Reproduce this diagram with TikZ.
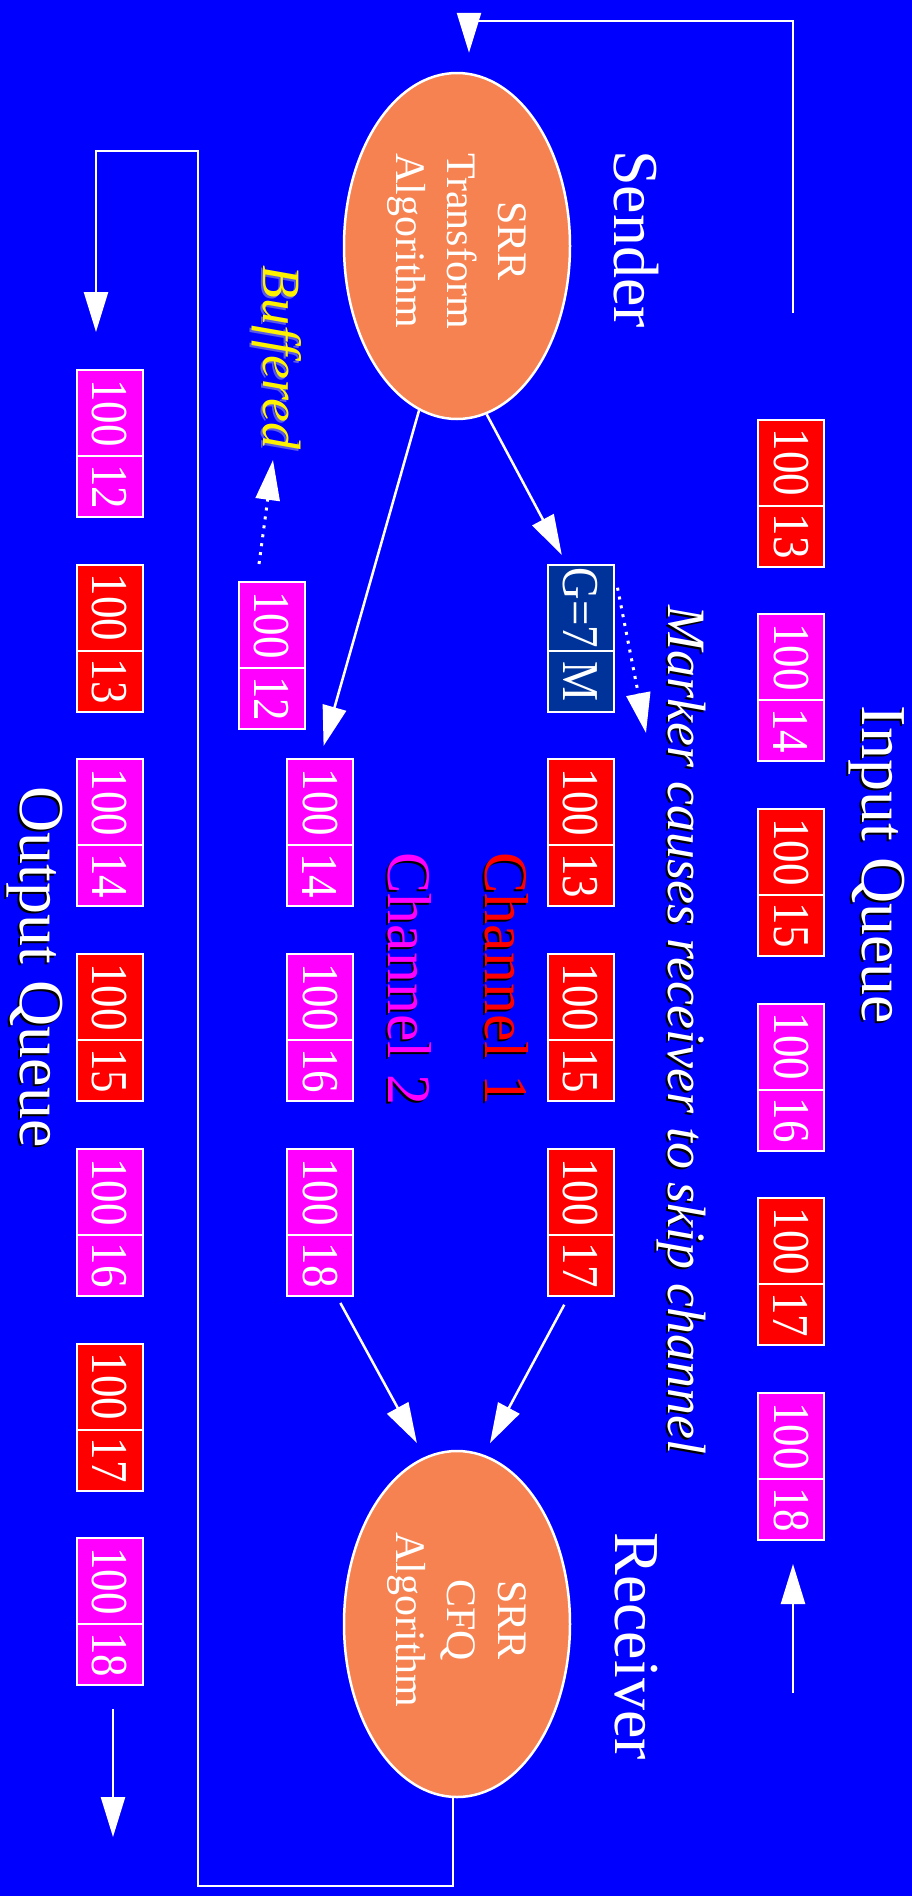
\documentclass[tikz,border=0pt]{standalone}
\usepackage{fontspec}
\setmainfont{Liberation Serif}
\usepackage{graphicx}
\usetikzlibrary{arrows.meta,shapes.geometric}
\definecolor{bg}{RGB}{0,0,255}
\definecolor{ellfill}{RGB}{245,130,80}
\definecolor{pred}{RGB}{255,0,0}
\definecolor{pmag}{RGB}{255,0,255}
\definecolor{pnavy}{RGB}{0,51,153}
\definecolor{bshadow}{RGB}{90,90,230}
\newcommand\rt[1]{\rotatebox{-90}{\scalebox{1}[1.15]{#1}}}
\begin{document}
\begin{tikzpicture}[x=1pt,y=-1pt,
  arr/.style={draw=white, line width=2.5pt, -{Triangle[length=40pt,width=24pt]}},
  dotarr/.style={draw=white, line width=3pt, dash pattern=on 3pt off 6pt, -{Triangle[length=40pt,width=24pt]}},
  pk/.style={draw=white, line width=2pt, minimum width=66pt, inner sep=0pt, text=white, font=\fontsize{45}{45}\selectfont},
  hi/.style={pk, minimum height=86pt},
  lo/.style={pk, minimum height=61pt},
  ell/.style={ellipse, draw=white, line width=2.5pt, fill=ellfill, minimum width=226pt, minimum height=346pt, inner sep=0pt},
  elltxt/.style={rotate=-90, align=center, inner sep=0pt, text=white, font=\fontsize{42}{51}\selectfont},
  lbl/.style={rotate=-90, inner sep=0pt, text=white, font=\fontsize{64}{64}\selectfont},
  chl/.style={rotate=-90, inner sep=0pt, anchor=west, font=\fontsize{62}{62}\selectfont},
  itl/.style={rotate=-90, inner sep=0pt, font=\fontsize{54}{54}\selectfont\itshape}
]
\fill[bg] (0,0) rectangle (912,1896);
\useasboundingbox (0,0) rectangle (912,1896);

% ellipses
\node[ell] (snd) at (457,246) {};
\node[elltxt] (sndT) at (457,241) {SRR\\Transform\\Algorithm};
\node[ell] (rcv) at (457,1624) {};
\node[elltxt] (rcvT) at (457,1620) {SRR\\CFQ\\Algorithm};

% labels
\node[lbl] (sndL) at (636,239) {Sender};
\node[lbl] (rcvL) at (636,1646) {Receiver};
\node[lbl, text=black] (inqS) at (875,867) {Input Queue};
\node[lbl] (inq) at (877,865) {Input Queue};
\node[lbl, text=black] (outqS) at (33,969) {Output Queue};
\node[lbl] (outq) at (35,967) {Output Queue};
\node[chl, text=black] (ch1S) at (505,854) {Channel 1};
\node[chl, text=pred] (ch1) at (507,852) {Channel 1};
\node[chl, text=black] (ch2S) at (408,854) {Channel 2};
\node[chl, text=pmag] (ch2) at (410,852) {Channel 2};
\node[itl, text=black] (mkS) at (679,1032) {Marker causes receiver to skip channel};
\node[itl, text=white] (mk) at (681,1030) {Marker causes receiver to skip channel};
\node[itl, text=bshadow] (bfS) at (275,359) {Buffered};
\node[itl, text=yellow] (bf) at (277,357) {Buffered};

% input queue
\node[hi, fill=pred] (i13a) at (791,462.5) {\rt{100}};
\node[lo, fill=pred] (i13b) at (791,536) {\rt{13}};
\node[hi, fill=pmag] (i14a) at (791,657.2) {\rt{100}};
\node[lo, fill=pmag] (i14b) at (791,730.7) {\rt{14}};
\node[hi, fill=pred] (i15a) at (791,851.9) {\rt{100}};
\node[lo, fill=pred] (i15b) at (791,925.4) {\rt{15}};
\node[hi, fill=pmag] (i16a) at (791,1046.6) {\rt{100}};
\node[lo, fill=pmag] (i16b) at (791,1120.1) {\rt{16}};
\node[hi, fill=pred] (i17a) at (791,1241.3) {\rt{100}};
\node[lo, fill=pred] (i17b) at (791,1314.8) {\rt{17}};
\node[hi, fill=pmag] (i18a) at (791,1436) {\rt{100}};
\node[lo, fill=pmag] (i18b) at (791,1509.5) {\rt{18}};

% channel 1
\node[hi, fill=pnavy] (g1) at (580.5,607.7) {\rt{G=7}};
\node[lo, fill=pnavy] (g1b) at (580.5,681.2) {\rt{M}};
\node[hi, fill=pred] (c1a) at (580.5,802.4) {\rt{100}};
\node[lo, fill=pred] (c1b) at (580.5,875.9) {\rt{13}};
\node[hi, fill=pred] (c1c) at (580.5,997.1) {\rt{100}};
\node[lo, fill=pred] (c1d) at (580.5,1070.6) {\rt{15}};
\node[hi, fill=pred] (c1e) at (580.5,1191.8) {\rt{100}};
\node[lo, fill=pred] (c1f) at (580.5,1265.3) {\rt{17}};

% channel 2
\node[hi, fill=pmag] (c2a) at (320,802.4) {\rt{100}};
\node[lo, fill=pmag] (c2b) at (320,875.9) {\rt{14}};
\node[hi, fill=pmag] (c2c) at (320,997.1) {\rt{100}};
\node[lo, fill=pmag] (c2d) at (320,1070.6) {\rt{16}};
\node[hi, fill=pmag] (c2e) at (320,1191.8) {\rt{100}};
\node[lo, fill=pmag] (c2f) at (320,1265.3) {\rt{18}};

% buffered
\node[hi, fill=pmag] (b12a) at (271.5,625) {\rt{100}};
\node[lo, fill=pmag] (b12b) at (271.5,698.5) {\rt{12}};

% output queue
\node[hi, fill=pmag] (o12a) at (109.5,413) {\rt{100}};
\node[lo, fill=pmag] (o12b) at (109.5,486.5) {\rt{12}};
\node[hi, fill=pred] (o13a) at (109.5,607.7) {\rt{100}};
\node[lo, fill=pred] (o13b) at (109.5,681.2) {\rt{13}};
\node[hi, fill=pmag] (o14a) at (109.5,802.4) {\rt{100}};
\node[lo, fill=pmag] (o14b) at (109.5,875.9) {\rt{14}};
\node[hi, fill=pred] (o15a) at (109.5,997.1) {\rt{100}};
\node[lo, fill=pred] (o15b) at (109.5,1070.6) {\rt{15}};
\node[hi, fill=pmag] (o16a) at (109.5,1191.8) {\rt{100}};
\node[lo, fill=pmag] (o16b) at (109.5,1265.3) {\rt{16}};
\node[hi, fill=pred] (o17a) at (109.5,1386.5) {\rt{100}};
\node[lo, fill=pred] (o17b) at (109.5,1460) {\rt{17}};
\node[hi, fill=pmag] (o18a) at (109.5,1581.2) {\rt{100}};
\node[lo, fill=pmag] (o18b) at (109.5,1654.7) {\rt{18}};

% coordinates
\coordinate (fbA) at (793,313);
\coordinate (fbB) at (469,21);
\coordinate (inB) at (793,1693);
\coordinate (olA) at (198,1886);
\coordinate (olB) at (96,151);
\coordinate (outEnd) at (113,1837);
\coordinate (mkTip) at (646,733);
\coordinate (bfTip) at (273,460);

% connectors
\draw[arr, shorten >=10pt] (snd.-80) -- ([xshift=20pt]g1.north west);
\draw[arr, shorten >=13pt] (snd.-103) -- (c2a.north);
\draw[arr, shorten <=9pt, shorten >=13pt] ([xshift=22pt]c1f.south west) -- (rcv.81);
\draw[arr, shorten <=7pt, shorten >=16pt] ([xshift=17pt]c2f.south) -- (rcv.101);
\draw[arr] (fbA) |- (fbB) -- ([xshift=12pt,yshift=19pt]snd.north);
\draw[arr] (inB) -- ([xshift=2pt,yshift=-23pt]i18b.south);
\draw[arr] ([xshift=-4pt]rcv.south) |- (olA) |- (olB) -- ([xshift=-13.5pt,yshift=37pt]o12a.north);
\draw[arr] ([xshift=3.5pt,yshift=-23pt]o18b.south) -- (outEnd);
\draw[dotarr] ([xshift=3pt,yshift=20pt]g1.east) -- (mkTip);
\draw[dotarr] ([xshift=-12.5pt,yshift=17pt]b12a.north) -- (bfTip);
\end{tikzpicture}
\end{document}
